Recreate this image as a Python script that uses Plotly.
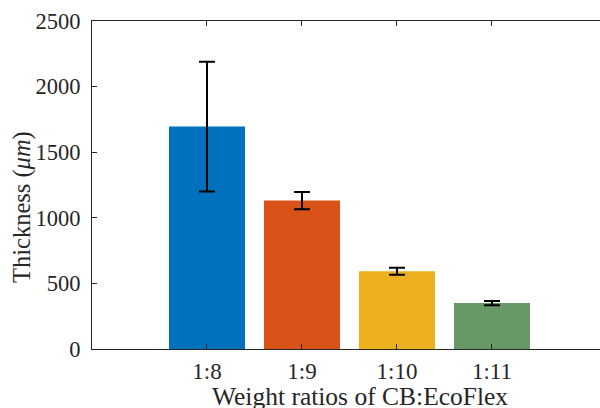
import plotly.graph_objects as go

categories = ["1:8", "1:9", "1:10", "1:11"]
thickness = [1695, 1131, 592, 350]
errors = [495, 65, 27, 16]
colors = ["#0072BD", "#D95319", "#EDB120", "#669966"]
y_ticks = [0, 500, 1000, 1500, 2000, 2500]

font_family = "Liberation Serif, Times New Roman, serif"
axis_color = "#262626"

L, R, T, B = 92, 0, 21, 59
W, H = 600, 408
plot_w = W - L - R
plot_h = H - T - B

fig = go.Figure()
fig.add_trace(go.Bar(
    x=list(range(len(categories))),
    y=thickness,
    marker=dict(color=colors, line=dict(width=0)),
    width=0.8,
    error_y=dict(type="data", array=errors, visible=True,
                 color="black", thickness=2, width=8),
))

fig.update_layout(
    width=W, height=H,
    margin=dict(l=L, r=R, t=T, b=B, autoexpand=False),
    paper_bgcolor="white", plot_bgcolor="white",
    showlegend=False,
    font=dict(family=font_family, size=22, color=axis_color),
    xaxis=dict(
        range=[-1.2105, 4.137],
        tickvals=list(range(len(categories))),
        ticktext=categories,
        ticks="inside", ticklen=5, tickcolor=axis_color,
        showline=True, linecolor=axis_color, linewidth=1,
        mirror="ticks", showgrid=False, zeroline=False,
        tickfont=dict(size=23, color=axis_color),
        ticklabelstandoff=1, automargin=False,
    ),
    yaxis=dict(
        range=[0, 2500],
        tickvals=y_ticks,
        ticks="inside", ticklen=5, tickcolor=axis_color,
        showline=True, linecolor=axis_color, linewidth=1,
        showgrid=False, zeroline=False,
        tickfont=dict(size=22.5, color=axis_color),
        ticklabelstandoff=6, automargin=False,
    ),
    annotations=[
        dict(text="Weight ratios of CB:EcoFlex",
             x=(360 - L) / plot_w, y=(H - B - 396) / plot_h,
             xref="paper", yref="paper", xanchor="center", yanchor="middle",
             showarrow=False, font=dict(size=25.5, color=axis_color)),
        dict(text="Thickness (<i>μm</i>)",
             x=(22 - L) / plot_w, y=(H - B - 207) / plot_h, textangle=-90,
             xref="paper", yref="paper", xanchor="center", yanchor="middle",
             showarrow=False, font=dict(size=24.5, color=axis_color)),
    ],
)

fig.write_html(
    "out.html",
    config={"displayModeBar": False, "staticPlot": True},
    post_script="document.body.style.margin='0';document.body.style.overflow='hidden';",
)
